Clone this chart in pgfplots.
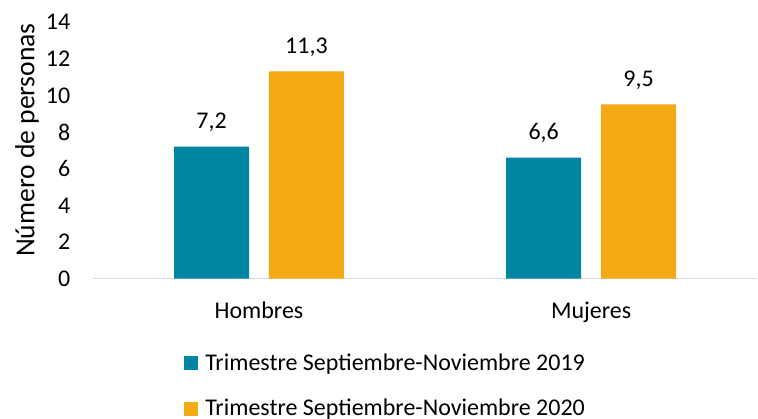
\documentclass[border=0pt]{standalone}
\usepackage{pgfplots}
\pgfplotsset{compat=1.18}
\usepackage{fontspec}
\setmainfont{Carlito}
\definecolor{teal1}{RGB}{0,133,163}
\definecolor{orange1}{RGB}{244,170,21}
\definecolor{axgray}{RGB}{217,217,217}
\begin{document}
\begin{tikzpicture}
\begin{axis}[
  name=ax,
  scale only axis,
  width=332.5pt, height=128.5pt,
  xmin=-0.5, xmax=1.5,
  ymin=0, ymax=14,
  ytick={0,2,...,14},
  xtick={0,1},
  xticklabels={Hombres,Mujeres},
  axis x line*=bottom,
  axis y line*=left,
  x axis line style={draw=axgray, line width=0.75pt},
  y axis line style={draw=none},
  tick style={draw=none},
  major tick length=0pt,
  font=\fontsize{12pt}{14pt}\selectfont,
  /pgf/number format/assume math mode=true,
  yticklabel style={xshift=-7.8pt},
  xticklabel style={anchor=base, yshift=-20pt},
  ylabel={Número de personas},
  ylabel style={at={(axis description cs:-0.0992,0.54)}, anchor=center, font=\fontsize{13.8pt}{16pt}\selectfont},
  ybar,
  bar width=37.5pt,
  nodes near coords={\pgfmathprintnumber[fixed,fixed zerofill,precision=1,use comma]{\pgfplotspointmeta}},
  every node near coord/.append style={anchor=base, yshift=9pt, font=\fontsize{12pt}{14pt}\selectfont},
  legend style={draw=none, fill=none, at={(axis description cs:0.137,-0.29)}, anchor=north west,
    inner sep=0pt, row sep=13pt, nodes={inner sep=0pt, anchor=base west},
    font=\fontsize{12pt}{14pt}\selectfont},
  legend cell align=left,
  legend image code/.code={\fill[#1,draw=none] (0pt,0pt) rectangle (7pt,7pt);},
]
\addplot[fill=teal1, draw=none, bar shift=-23.75pt] coordinates {(0,7.2) (1,6.6)};
\addplot[fill=orange1, draw=none, bar shift=23.75pt] coordinates {(0,11.3) (1,9.5)};
\legend{\hspace{3.5pt}Trimestre Septiembre-Noviembre 2019,\hspace{3.5pt}Trimestre Septiembre-Noviembre 2020}
\end{axis}
\path[use as bounding box] ([xshift=-46.5pt,yshift=-70pt]ax.south west) rectangle ([yshift=11pt]ax.north east);
\end{tikzpicture}
\end{document}
